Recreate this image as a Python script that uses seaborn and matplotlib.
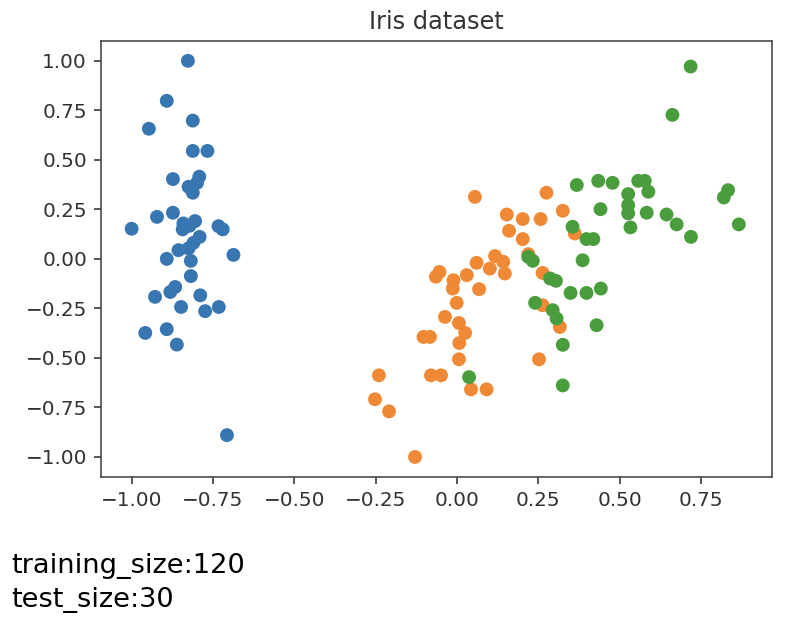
import numpy as np
import pandas as pd
import matplotlib
matplotlib.use("Agg")
import matplotlib.pyplot as plt
import seaborn as sns

# projected iris points
setosa_x = [-0.827, -0.892, -0.947, -0.812, -0.812, -0.767, -0.873, -0.792, -0.799, -0.825,
            -0.812, -0.922, -0.873, -1.0, -0.841, -0.843, -0.805, -0.822, -0.733, -0.720,
            -0.791, -0.810, -0.825, -0.856, -0.687, -0.892, -0.818, -0.818, -0.866, -0.881,
            -0.928, -0.789, -0.848, -0.774, -0.732, -0.958, -0.892, -0.861, -0.707]
setosa_y = [1.0, 0.798, 0.657, 0.698, 0.545, 0.545, 0.403, 0.415, 0.384, 0.364,
            0.334, 0.212, 0.233, 0.152, 0.179, 0.149, 0.191, 0.167, 0.165, 0.149,
            0.111, 0.081, 0.053, 0.044, 0.020, 0.0, -0.010, -0.087, -0.142, -0.167,
            -0.192, -0.184, -0.243, -0.264, -0.243, -0.374, -0.355, -0.433, -0.890]

versicolor_x = [0.055, 0.275, 0.153, 0.202, 0.257, 0.325, 0.160, 0.202, 0.362, 0.219,
                0.117, 0.142, 0.060, 0.101, 0.147, -0.054, -0.065, 0.030, -0.011, -0.013,
                0.068, 0.263, -0.001, -0.037, 0.006, 0.025, 0.007, -0.103, -0.083, 0.263,
                0.316, 0.006, 0.252, -0.240, -0.080, -0.049, 0.043, 0.091, -0.252, -0.209,
                -0.129]
versicolor_y = [0.313, 0.334, 0.224, 0.201, 0.201, 0.243, 0.142, 0.100, 0.128, 0.024,
                0.014, -0.015, -0.020, -0.049, -0.074, -0.066, -0.090, -0.082, -0.108, -0.150,
                -0.153, -0.071, -0.222, -0.293, -0.324, -0.374, -0.425, -0.394, -0.394, -0.234,
                -0.344, -0.507, -0.507, -0.588, -0.588, -0.588, -0.659, -0.659, -0.709, -0.770,
                -1.0]

virginica_x = [0.718, 0.662, 0.368, 0.434, 0.478, 0.557, 0.577, 0.588, 0.526, 0.526,
               0.526, 0.533, 0.441, 0.583, 0.644, 0.675, 0.719, 0.833, 0.820, 0.866,
               0.355, 0.398, 0.419, 0.386, 0.219, 0.233, 0.286, 0.304, 0.349, 0.398,
               0.442, 0.240, 0.294, 0.306, 0.429, 0.325, 0.325, 0.037]
virginica_y = [0.971, 0.727, 0.373, 0.394, 0.384, 0.394, 0.394, 0.339, 0.327, 0.271,
               0.230, 0.159, 0.251, 0.233, 0.224, 0.174, 0.111, 0.347, 0.310, 0.174,
               0.162, 0.100, 0.100, -0.007, 0.010, -0.010, -0.099, -0.111, -0.172, -0.172,
               -0.150, -0.222, -0.259, -0.301, -0.335, -0.434, -0.639, -0.597]

species = ["setosa", "versicolor", "virginica"]
colors = ["#3776b0", "#f08936", "#4a9d3c"]

df = pd.concat([
    pd.DataFrame({"x": setosa_x, "y": setosa_y, "species": species[0]}),
    pd.DataFrame({"x": versicolor_x, "y": versicolor_y, "species": species[1]}),
    pd.DataFrame({"x": virginica_x, "y": virginica_y, "species": species[2]}),
])

plt.rcParams["font.family"] = ["DejaVu Sans"]
plt.rcParams["axes.unicode_minus"] = True

fig = plt.figure(figsize=(798 / 144, 630 / 144), dpi=144)
ax = fig.add_axes([0.1266, 0.2433, 0.8404, 0.6916])

sns.scatterplot(data=df, x="x", y="y", hue="species", palette=colors,
                s=48, linewidth=0, alpha=1, legend=False, ax=ax)

ax.set_xlim(-1.094, 0.967)
ax.set_ylim(-1.1, 1.1)
ax.set_xticks([-1.0, -0.75, -0.5, -0.25, 0.0, 0.25, 0.5, 0.75])
ax.set_yticks([-1.0, -0.75, -0.5, -0.25, 0.0, 0.25, 0.5, 0.75, 1.0])
ax.set_xticklabels([f"{v:.2f}".replace("-", "\u2212") for v in ax.get_xticks()])
ax.set_yticklabels([f"{v:.2f}".replace("-", "\u2212") for v in ax.get_yticks()])
ax.set_xlabel("")
ax.set_ylabel("")
ax.tick_params(colors="#333333", labelsize=10, width=0.8, length=3.5)
for sp in ax.spines.values():
    sp.set_color("#444444")
    sp.set_linewidth(0.8)
ax.set_title("Iris dataset", fontsize=12, color="#333333")

# printed output shown under the figure
fig.text(11 / 798, 1 - 573 / 630, "training_size:120", fontsize=13.6,
         family="DejaVu Sans", color="black", va="baseline")
fig.text(11 / 798, 1 - 607 / 630, "test_size:30", fontsize=13.6,
         family="DejaVu Sans", color="black", va="baseline")

fig.savefig("out.png", dpi=144)
